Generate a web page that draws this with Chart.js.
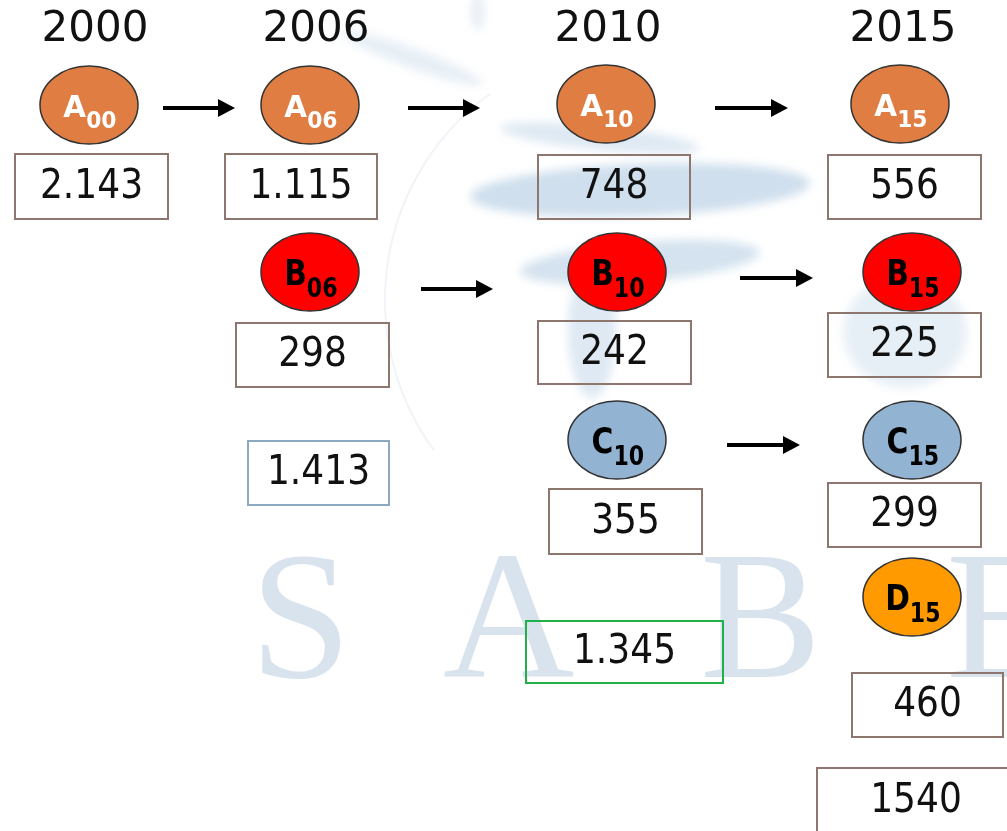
<!DOCTYPE html>
<html>
<head>
<meta charset="utf-8">
<script src="https://cdn.jsdelivr.net/npm/chart.js@4.4.0/dist/chart.umd.min.js"></script>
<style>
  html, body { margin: 0; padding: 0; background: #fff; }
  #wrap { width: 1007px; height: 831px; overflow: hidden; }
</style>
</head>
<body>
<div id="wrap"><canvas id="diagram" width="1007" height="831"></canvas></div>
<script>
// data
const years = ['2000', '2006', '2010', '2015']
const nodeLetters = ['A', 'A', 'A', 'A', 'B', 'B', 'B', 'C', 'C', 'D']
const nodeYears = ['2000', '2006', '2010', '2015', '2006', '2010', '2015', '2010', '2015', '2015']
const nodeValues = ['2.143', '1.115', '748', '556', '298', '242', '225', '355', '299', '460']
const totalYears = ['2006', '2010', '2015']
const totalValues = ['1.413', '1.345', '1540']
const links = [[0, 1], [1, 2], [2, 3], [4, 5], [5, 6], [7, 8]]

// layout, in canvas units
const yearX = [95, 316, 608, 903]
const nodePos = [[89, 105], [310, 105], [606, 104], [900, 104], [310, 272], [617, 272], [912, 272], [617, 440], [912, 440], [912, 597]]
const nodeBox = [[15, 154, 168, 219], [225, 154, 377, 219], [538, 155, 690, 219], [828, 155, 981, 219],
  [236, 323, 389, 387], [538, 321, 691, 384], [828, 313, 981, 377], [549, 489, 702, 554], [828, 483, 981, 547], [852, 673, 1003, 737]]
const totalBox = [[248, 441, 389, 505], [526, 621, 723, 683], [817, 768, 1015, 833]]
const totalBorder = ['#8ea8c0', '#22b04b', '#8d766e']
const arrowPos = [[163, 235, 108], [408, 480, 108], [715, 788, 108], [421, 493, 289], [740, 813, 278], [727, 800, 445]]
const letterColor = { A: '#e07d42', B: '#ff0000', C: '#93b3d3', D: '#ff9a00' }

const arrowSets = links.map((l, i) => {
  const a = arrowPos[i]
  return {
    type: 'line',
    label: nodeLetters[l[0]] + nodeYears[l[0]] + '-' + nodeYears[l[1]],
    data: [{ x: a[0], y: a[2] }, { x: a[1] - 15, y: a[2] }],
    borderColor: '#000',
    borderWidth: 4,
    pointRadius: 0
  }
})

const boxes = nodeValues.map((v, i) => ({ x: (nodeBox[i][0] + nodeBox[i][2]) / 2, y: (nodeBox[i][1] + nodeBox[i][3]) / 2, v, box: nodeBox[i], border: '#8d766e' }))
  .concat(totalValues.map((v, i) => ({ x: (totalBox[i][0] + totalBox[i][2]) / 2, y: (totalBox[i][1] + totalBox[i][3]) / 2, v, box: totalBox[i], border: totalBorder[i] })))

function blob(ctx, x, y, rx, ry, rot, alpha) {
  ctx.fillStyle = 'rgba(160,192,220,' + alpha + ')'
  ctx.beginPath()
  ctx.ellipse(x, y, rx, ry, rot, 0, Math.PI * 2)
  ctx.fill()
}

const diagram = {
  id: 'diagram',
  beforeDatasetsDraw(chart) {
    const ctx = chart.ctx
    ctx.save()
    ctx.filter = 'blur(5px)'
    blob(ctx, 640, 190, 170, 26, -0.04, 0.5)
    blob(ctx, 600, 138, 100, 12, 0.1, 0.35)
    blob(ctx, 640, 262, 120, 20, -0.08, 0.45)
    blob(ctx, 592, 330, 24, 68, 0, 0.35)
    blob(ctx, 905, 332, 62, 56, 0, 0.25)
    blob(ctx, 412, 58, 75, 10, 0.35, 0.25)
    blob(ctx, 478, 12, 7, 18, 0, 0.25)
    ctx.filter = 'none'
    ctx.strokeStyle = 'rgba(205,218,232,0.3)'
    ctx.lineWidth = 2
    ctx.beginPath()
    ctx.arc(640, 300, 255, Math.PI * 0.8, Math.PI * 1.3)
    ctx.stroke()
    ctx.fillStyle = '#d9e3ed'
    ctx.font = '182px "Liberation Serif"'
    ctx.textBaseline = 'alphabetic'
    ctx.textAlign = 'left'
    ;[['S', 250], ['A', 443], ['B', 700], ['E', 946]].forEach(t => ctx.fillText(t[0], t[1], 677))
    ctx.restore()
  },
  afterDatasetsDraw(chart) {
    const ctx = chart.ctx
    ctx.save()
    // arrow heads
    arrowSets.forEach((s, i) => {
      const p = chart.getDatasetMeta(i).data[1]
      ctx.fillStyle = '#000'
      ctx.beginPath()
      ctx.moveTo(p.x - 2, p.y - 9)
      ctx.lineTo(p.x + 15, p.y)
      ctx.lineTo(p.x - 2, p.y + 9)
      ctx.closePath()
      ctx.fill()
    })
    // value boxes
    const boxMeta = chart.getDatasetMeta(arrowSets.length)
    boxMeta.data.forEach((p, i) => {
      const b = boxes[i]
      ctx.strokeStyle = b.border
      ctx.lineWidth = 2
      ctx.strokeRect(b.box[0], b.box[1], b.box[2] - b.box[0], b.box[3] - b.box[1])
      ctx.save()
      ctx.translate(p.x, p.y)
      ctx.scale(0.9, 1)
      ctx.fillStyle = '#111'
      ctx.font = '40px "DejaVu Sans"'
      ctx.textAlign = 'center'
      ctx.textBaseline = 'middle'
      ctx.fillText(b.v, 0, 1)
      ctx.restore()
    })
    // nodes
    const nodeMeta = chart.getDatasetMeta(arrowSets.length + 1)
    nodeMeta.data.forEach((p, i) => {
      const letter = nodeLetters[i]
      ctx.fillStyle = letterColor[letter]
      ctx.strokeStyle = '#333'
      ctx.lineWidth = 1.5
      ctx.beginPath()
      ctx.ellipse(p.x, p.y, 49, 39, 0, 0, Math.PI * 2)
      ctx.fill()
      ctx.stroke()
      const isA = letter === 'A'
      const sub = nodeYears[i].slice(2)
      const big = isA ? 31 : 35
      const small = isA ? 23 : 26
      ctx.save()
      ctx.translate(p.x, p.y)
      ctx.scale(isA ? 0.95 : 0.85, 1)
      ctx.font = 'bold ' + big + 'px "DejaVu Sans"'
      const w1 = ctx.measureText(letter).width
      ctx.font = 'bold ' + small + 'px "DejaVu Sans"'
      const w2 = ctx.measureText(sub).width
      const x0 = -(w1 + w2) / 2 + 1
      ctx.fillStyle = isA ? '#fff' : '#000'
      ctx.textAlign = 'left'
      ctx.textBaseline = 'alphabetic'
      ctx.font = 'bold ' + big + 'px "DejaVu Sans"'
      ctx.fillText(letter, x0, isA ? 12 : 13)
      ctx.font = 'bold ' + small + 'px "DejaVu Sans"'
      ctx.fillText(sub, x0 + w1, isA ? 23 : 25)
      ctx.restore()
    })
    // year headings
    const xs = chart.scales.x
    ctx.fillStyle = '#111'
    ctx.font = '42px "DejaVu Sans"'
    ctx.textAlign = 'center'
    ctx.textBaseline = 'middle'
    years.forEach((y, i) => ctx.fillText(y, xs.getPixelForValue(yearX[i]), 30))
    ctx.restore()
  }
}

const ctx = document.getElementById('diagram').getContext('2d')
const chart = new Chart(ctx, {
  type: 'scatter',
  data: {
    datasets: arrowSets.concat([
      { label: 'values', data: boxes.map(b => ({ x: b.x, y: b.y })), pointRadius: 0 },
      { label: 'nodes', data: nodePos.map(p => ({ x: p[0], y: p[1] })), pointRadius: 0 }
    ])
  },
  options: {
    responsive: false,
    animation: false,
    events: [],
    layout: { padding: 0 },
    plugins: { legend: { display: false }, tooltip: { enabled: false } },
    scales: {
      x: { type: 'linear', min: 0, max: 1007, display: false },
      y: { type: 'linear', min: 0, max: 831, reverse: true, display: false }
    }
  },
  plugins: [diagram]
})
</script>
</body>
</html>
